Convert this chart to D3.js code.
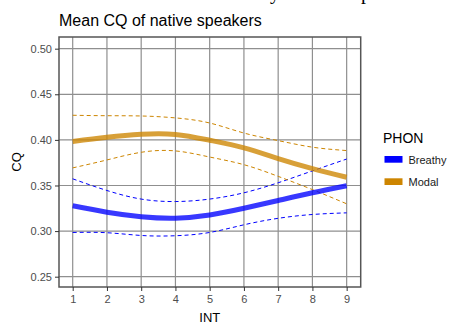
<!DOCTYPE html>
<html>
<head>
<meta charset="utf-8">
<script src="https://cdn.jsdelivr.net/npm/d3@7"></script>
<style>
  body { margin: 0; background: #fff; }
  svg { display: block; font-family: "Liberation Sans", Arial, sans-serif; }
</style>
</head>
<body>
<div id="chart"></div>
<script>
// smoothed CQ by interval
const intervals = [1, 2, 3, 4, 5, 6, 7, 8, 9];
const breathyMean  = [0.3277, 0.3207, 0.3158, 0.3142, 0.3176, 0.3250, 0.3335, 0.3420, 0.3497];
const breathyUpper = [0.3573, 0.3445, 0.3351, 0.3324, 0.3351, 0.3420, 0.3530, 0.3660, 0.3790];
const breathyLower = [0.2985, 0.2982, 0.2952, 0.2949, 0.2985, 0.3069, 0.3140, 0.3182, 0.3200];
const modalMean  = [0.3983, 0.4029, 0.4062, 0.4060, 0.3996, 0.3912, 0.3795, 0.3685, 0.3590];
const modalUpper = [0.4270, 0.4265, 0.4262, 0.4241, 0.4185, 0.4075, 0.3992, 0.3920, 0.3883];
const modalLower = [0.3693, 0.3780, 0.3864, 0.3879, 0.3812, 0.3728, 0.3600, 0.3455, 0.3299];
const yTicks = [0.25, 0.30, 0.35, 0.40, 0.45, 0.50];
const phonLevels = ["Breathy", "Modal"];
const phonColors = ["#0000ff", "#cd8500"];

const width = 450, height = 324;
const margin = { left: 59, right: 89.3, top: 37, bottom: 37 };

const svg = d3.select("#chart").append("svg")
  .attr("width", width)
  .attr("height", height);

// bits of the page text above the figure, cut off at the top edge
svg.append("text")
  .attr("x", 270).attr("y", -1)
  .attr("font-family", "Liberation Serif, serif")
  .attr("font-size", 20)
  .text("y");
svg.append("text")
  .attr("x", 361).attr("y", -1)
  .attr("font-family", "Liberation Serif, serif")
  .attr("font-size", 20)
  .text("p");

const x = d3.scaleLinear()
  .domain([0.6, 9.41])
  .range([margin.left, width - margin.right]);
const y = d3.scaleLinear()
  .domain([0.2387, 0.5128])
  .range([height - margin.bottom, margin.top]);

const panel = svg.append("g");

// grid
panel.append("g")
  .selectAll("line")
  .data(intervals)
  .join("line")
  .attr("x1", d => x(d)).attr("x2", d => x(d))
  .attr("y1", margin.top).attr("y2", height - margin.bottom)
  .attr("stroke", "#8f8f8f")
  .attr("stroke-width", 1.2);
panel.append("g")
  .selectAll("line")
  .data(yTicks)
  .join("line")
  .attr("x1", margin.left).attr("x2", width - margin.right)
  .attr("y1", d => y(d)).attr("y2", d => y(d))
  .attr("stroke", "#8f8f8f")
  .attr("stroke-width", 1.2);

const line = d3.line()
  .x((d, i) => x(intervals[i]))
  .y(d => y(d))
  .curve(d3.curveNatural);

const series = [
  { mean: breathyMean, upper: breathyUpper, lower: breathyLower, color: phonColors[0] },
  { mean: modalMean, upper: modalUpper, lower: modalLower, color: phonColors[1] }
];

series.forEach(s => {
  [s.upper, s.lower].forEach(band => {
    panel.append("path")
      .datum(band)
      .attr("d", line)
      .attr("fill", "none")
      .attr("stroke", s.color)
      .attr("stroke-width", 1)
      .attr("stroke-dasharray", "4,3");
  });
});
series.forEach(s => {
  panel.append("path")
    .datum(s.mean)
    .attr("d", line)
    .attr("fill", "none")
    .attr("stroke", s.color)
    .attr("stroke-opacity", 0.78)
    .attr("stroke-width", 5);
});

// panel border
panel.append("rect")
  .attr("x", margin.left).attr("y", margin.top)
  .attr("width", width - margin.right - margin.left)
  .attr("height", height - margin.bottom - margin.top)
  .attr("fill", "none")
  .attr("stroke", "#555")
  .attr("stroke-width", 1.5);

// axes
const xAxis = svg.append("g")
  .attr("transform", "translate(0," + (height - margin.bottom) + ")")
  .call(d3.axisBottom(x).tickValues(intervals).tickFormat(d3.format("d")).tickSize(4).tickPadding(4));
const yAxis = svg.append("g")
  .attr("transform", "translate(" + margin.left + ",0)")
  .call(d3.axisLeft(y).tickValues(yTicks).tickFormat(d3.format(".2f")).tickSize(4).tickPadding(3));
[xAxis, yAxis].forEach(a => {
  a.select(".domain").remove();
  a.selectAll(".tick line").attr("stroke", "#333");
  a.selectAll(".tick text")
    .attr("fill", "#4d4d4d")
    .attr("font-size", 11)
    .attr("font-family", "Liberation Sans, Arial, sans-serif");
});

// titles
svg.append("text")
  .attr("x", 59).attr("y", 25.5)
  .attr("font-size", 16)
  .attr("fill", "#000")
  .text("Mean CQ of native speakers");
svg.append("text")
  .attr("x", (margin.left + width - margin.right) / 2).attr("y", 322)
  .attr("text-anchor", "middle")
  .attr("font-size", 13)
  .text("INT");
svg.append("text")
  .attr("transform", "translate(20.5,162) rotate(-90)")
  .attr("text-anchor", "middle")
  .attr("font-size", 13)
  .text("CQ");

// legend
const legend = svg.append("g").attr("transform", "translate(383,0)");
legend.append("text")
  .attr("x", 0).attr("y", 143.3)
  .attr("font-size", 14)
  .text("PHON");
legend.selectAll("rect.key")
  .data(phonLevels)
  .join("rect")
  .attr("class", "key")
  .attr("x", 1.5)
  .attr("y", (d, i) => 156 + i * 22.3)
  .attr("width", 18)
  .attr("height", 6.7)
  .attr("fill", (d, i) => phonColors[i]);
legend.selectAll("text.lab")
  .data(phonLevels)
  .join("text")
  .attr("class", "lab")
  .attr("x", 25.5)
  .attr("y", (d, i) => 164 + i * 22.3)
  .attr("font-size", 11)
  .attr("fill", "#1a1a1a")
  .text(d => d);
</script>
</body>
</html>
